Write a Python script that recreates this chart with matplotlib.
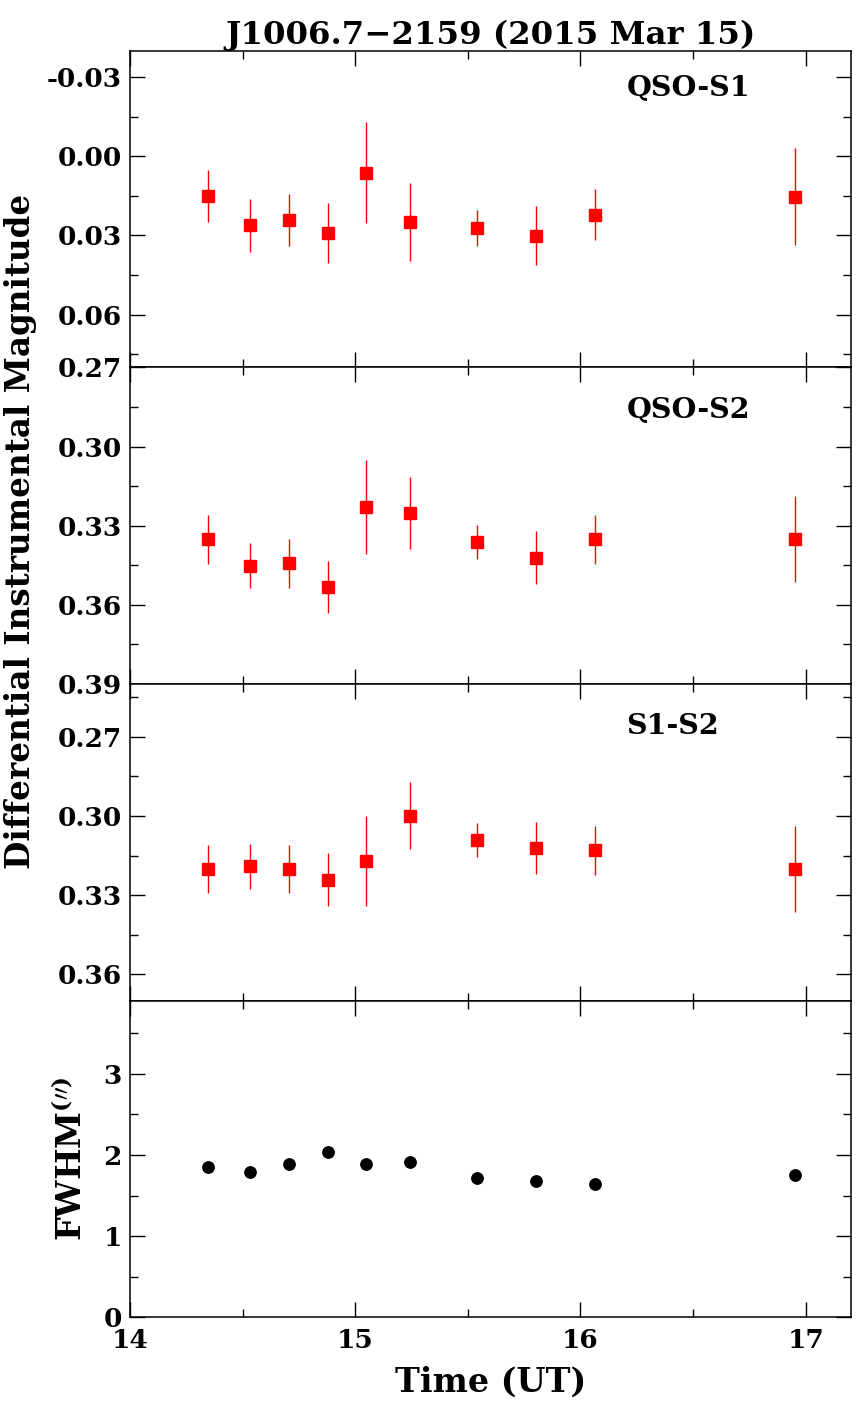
import matplotlib
matplotlib.use("Agg")
import matplotlib.pyplot as plt
from matplotlib.ticker import MultipleLocator, FormatStrFormatter

plt.rcParams["font.family"] = ["DejaVu Serif"]
plt.rcParams["font.weight"] = "bold"
plt.rcParams["axes.titleweight"] = "bold"
plt.rcParams["axes.labelweight"] = "bold"
plt.rcParams["mathtext.fontset"] = "dejavuserif"
plt.rcParams["mathtext.default"] = "bf"
plt.rcParams["axes.unicode_minus"] = False

# time of observation (UT hours)
time_ut = [14.347, 14.531, 14.704, 14.877, 15.050, 15.243, 15.540, 15.803, 16.063, 16.954]

# differential light curves
qso_s1 = [0.0152, 0.0262, 0.0241, 0.0292, 0.0062, 0.0250, 0.0272, 0.0301, 0.0221, 0.0153]
qso_s1_err = [0.0099, 0.0099, 0.0099, 0.0114, 0.0191, 0.0148, 0.0069, 0.0113, 0.0097, 0.0185]

qso_s2 = [0.3352, 0.3451, 0.3443, 0.3532, 0.3231, 0.3252, 0.3362, 0.3422, 0.3352, 0.3352]
qso_s2_err = [0.0092, 0.0086, 0.0092, 0.0100, 0.0178, 0.0135, 0.0064, 0.0100, 0.0092, 0.0163]

s1_s2 = [0.3201, 0.3191, 0.3201, 0.3241, 0.3172, 0.3000, 0.3091, 0.3121, 0.3130, 0.3201]
s1_s2_err = [0.0092, 0.0086, 0.0092, 0.0099, 0.0170, 0.0127, 0.0063, 0.0099, 0.0092, 0.0163]

# seeing
fwhm = [1.85, 1.79, 1.89, 2.04, 1.89, 1.91, 1.71, 1.68, 1.64, 1.75]

panels = [
    ("QSO-S1", qso_s1, qso_s1_err, (0.08, -0.04), [-0.03, 0.00, 0.03, 0.06], 0.88),
    ("QSO-S2", qso_s2, qso_s2_err, (0.39, 0.27), [0.27, 0.30, 0.33, 0.36, 0.39], 0.864),
    ("S1-S2", s1_s2, s1_s2_err, (0.37, 0.25), [0.27, 0.30, 0.33, 0.36], 0.865),
]

fig = plt.figure(figsize=(8.66, 14.17), dpi=100)
left, right = 130 / 866, 850.7 / 866
bottom, top = 1 - 1317.3 / 1417, 1 - 50.7 / 1417
h = (top - bottom) / 4

axes = []
for i in range(4):
    ax = fig.add_axes([left, top - (i + 1) * h, right - left, h])
    axes.append(ax)


def style(ax):
    ax.set_xlim(14, 17.2)
    ax.xaxis.set_major_locator(MultipleLocator(1))
    ax.xaxis.set_minor_locator(MultipleLocator(0.5))
    ax.tick_params(which="both", direction="in", top=True, right=True, width=1.0)
    ax.tick_params(which="major", length=10.5, labelsize=19, pad=6)
    ax.tick_params(axis="x", which="major", pad=8)
    ax.tick_params(which="minor", length=6)
    for s in ax.spines.values():
        s.set_linewidth(1.1)


for ax, (name, vals, errs, ylim, ticks, ty) in zip(axes[:3], panels):
    ax.errorbar(time_ut, vals, yerr=errs, fmt="s", color="red", ms=8.8,
                elinewidth=1.0, capsize=0, mec="red")
    ax.set_ylim(*ylim)
    ax.set_yticks(ticks)
    ax.yaxis.set_minor_locator(MultipleLocator(0.015))
    ax.yaxis.set_major_formatter(FormatStrFormatter("%.2f"))
    ax.text(0.689, ty, name, transform=ax.transAxes, ha="left", va="center", fontsize=20.5)
    style(ax)
    ax.tick_params(labelbottom=False)

ax = axes[3]
ax.plot(time_ut, fwhm, "o", color="black", ms=8.2)
ax.set_ylim(0, 3.9)
ax.yaxis.set_major_locator(MultipleLocator(1))
ax.yaxis.set_minor_locator(MultipleLocator(0.5))
style(ax)
ax.set_ylabel(r"FWHM$^{(\prime\prime)}$", fontsize=24, labelpad=10)
ax.set_xlabel("Time (UT)", fontsize=24, labelpad=9)

axes[0].set_title("J1006.7\u22122159 (2015 Mar 15)", fontsize=23.3, pad=3)
fig.text(0.024, 1 - 531 / 1417, "Differential Instrumental Magnitude", rotation=90,
         ha="center", va="center", fontsize=23.5)

fig.savefig("out.png", dpi=100)
